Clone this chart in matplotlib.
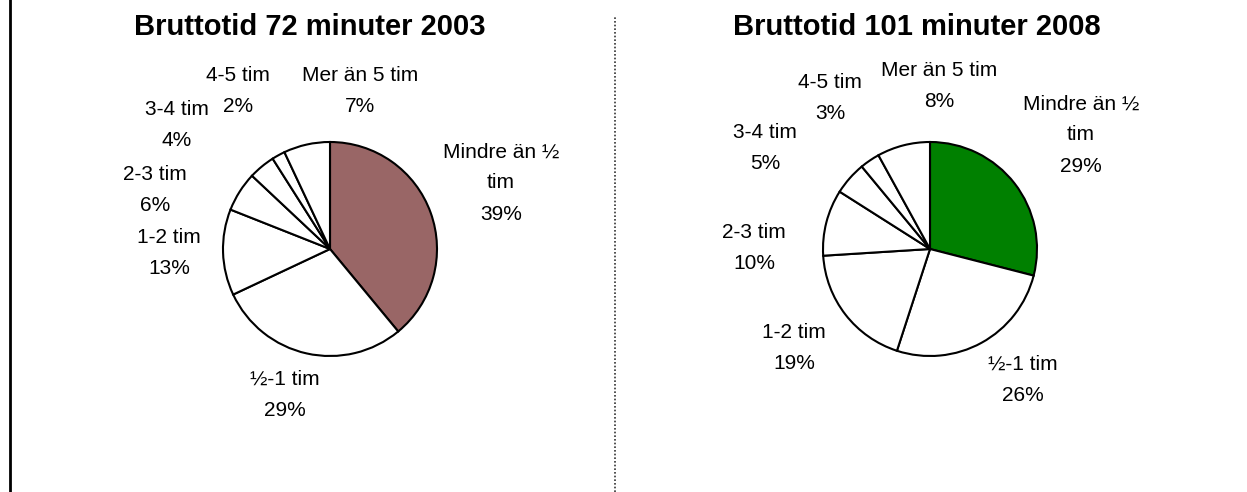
import matplotlib
matplotlib.use("Agg")
import matplotlib.pyplot as plt

# ---------------- DATA ----------------

categories = ["Mindre än ½\ntim", "½-1 tim", "1-2 tim", "2-3 tim",
              "3-4 tim", "4-5 tim", "Mer än 5 tim"]
share_2003 = [39, 29, 13, 6, 4, 2, 7]
share_2008 = [29, 26, 19, 10, 5, 3, 8]
title_2003 = "Bruttotid 72 minuter 2003"
title_2008 = "Bruttotid 101 minuter 2008"

# ---------------- LAYOUT (pixels from top-left) ----------------

W, H = 1247, 492
pie_r = 107
center_2003 = (330, 249)
center_2008 = (930, 249)
labels_pos_2003 = [(501, 183), (285, 395), (169, 253), (155, 190),
                   (177, 125), (238, 91), (360, 91)]
labels_pos_2008 = [(1081, 135), (1023, 380), (794, 348), (754, 248),
                   (765, 148), (830, 98), (939, 86)]

plt.rcParams['font.family'] = ['Liberation Sans', 'DejaVu Sans']

fig = plt.figure(figsize=(W / 100, H / 100), dpi=100)
ax = fig.add_axes([0, 0, 1, 1])


def draw_pie(values, center, color, label_pos, title, title_x):
    cx, cy = center
    ax.pie(values,
           colors=[color] + ['white'] * (len(values) - 1),
           startangle=90,
           counterclock=False,
           center=(cx, H - cy),
           radius=pie_r,
           frame=True,
           wedgeprops=dict(edgecolor='black', linewidth=1.5))
    for lab, val, (x, y) in zip(categories, values, label_pos):
        ax.text(x, H - y, f"{lab}\n{val}%",
                ha='center', va='center', multialignment='center',
                fontsize=15, linespacing=1.8, color='black')
    ax.text(title_x, H - 27, title, ha='center', va='center',
            fontsize=21, fontweight='bold', color='black')


draw_pie(share_2003, center_2003, '#996666', labels_pos_2003, title_2003, 310)
draw_pie(share_2008, center_2008, '#008000', labels_pos_2008, title_2008, 917)

# pie() with frame=True touches the limits, so set them after
ax.set_xlim(0, W)
ax.set_ylim(0, H)
ax.set_aspect('equal')
ax.axis('off')

# ---------------- FRAME LINES ----------------

ax.plot([10, 10], [0, H], color='black', linewidth=2)
ax.plot([615, 615], [0, H - 17], color='#333333', linewidth=1.2,
        linestyle=(0, (1, 1.2)))

fig.savefig("out.png", dpi=100, facecolor='white')
